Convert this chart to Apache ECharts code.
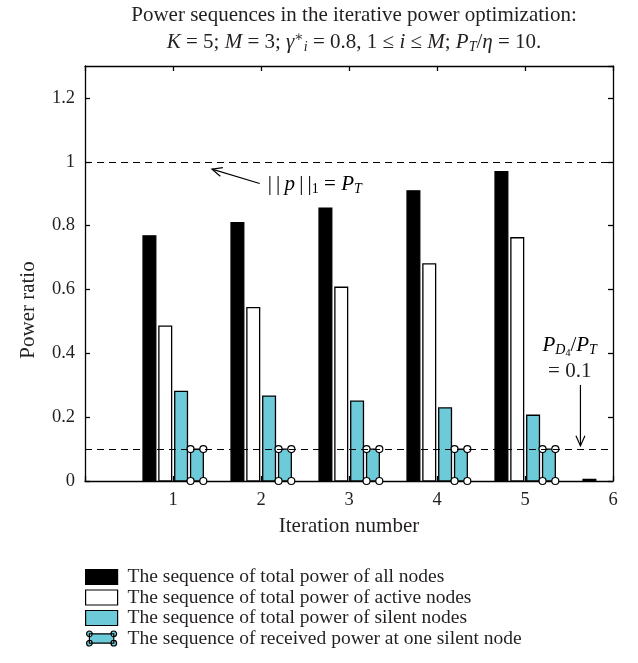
<!DOCTYPE html>
<html>
<head>
<meta charset="utf-8">
<script src="https://cdn.jsdelivr.net/npm/echarts@6/dist/echarts.min.js"></script>
<style>
  html, body { margin: 0; padding: 0; background: #fff; }
  #chart { width: 638px; height: 663px; }
</style>
</head>
<body>
<div id="chart"></div>
<script>
// values
const iterations = [1, 2, 3, 4, 5, 6];
const totalAll = [0.768, 0.809, 0.855, 0.909, 0.969, 0.005];
const totalActive = [0.485, 0.543, 0.607, 0.680, 0.762];
const totalSilent = [0.281, 0.266, 0.250, 0.229, 0.206];
const receivedSilent = [0.1, 0.1, 0.1, 0.1, 0.1];
const referenceLevels = [1, 0.1];
const seriesNames = [
  'The sequence of total power of all nodes',
  'The sequence of total power of active nodes',
  'The sequence of total power of silent nodes',
  'The sequence of received power at one silent node'
];

const FONT = '"Liberation Serif", "DejaVu Serif", serif';
const INK = '#231f20';
const CYAN = '#6dcad8';
const offsets = [-0.268, -0.088, 0.092, 0.272]; // bar offset from the iteration tick
const halfW = 0.0725;

const chart = echarts.init(document.getElementById('chart'), null, { renderer: 'canvas' });

const pairs = (vals) => vals.map((v, i) => [iterations[i], v]);

function barRenderer(k, fill, withCircles) {
  return function (params, api) {
    const x = api.value(0) + offsets[k];
    const tl = api.coord([x - halfW, api.value(1)]);
    const br = api.coord([x + halfW, 0]);
    const rect = {
      type: 'rect',
      shape: { x: tl[0], y: tl[1], width: br[0] - tl[0], height: br[1] - tl[1] },
      style: { fill: fill, stroke: '#000', lineWidth: 1.3 }
    };
    if (!withCircles) return rect;
    const corners = [[tl[0], tl[1]], [br[0], tl[1]], [tl[0], br[1]], [br[0], br[1]]];
    return {
      type: 'group',
      children: [rect].concat(corners.map(c => ({
        type: 'circle',
        shape: { cx: c[0], cy: c[1], r: 3.5 },
        style: { fill: '#fff', stroke: '#000', lineWidth: 1.2 },
        z2: 5
      })))
    };
  };
}

const axisLine = { onZero: false, lineStyle: { color: '#000', width: 1.3 } };
const tickIn = { inside: true, length: 5, lineStyle: { color: '#000', width: 1.3 } };
const tickLabel = { color: INK, fontFamily: FONT, fontSize: 18.5 };
const nameStyle = { color: INK, fontFamily: FONT, fontSize: 21 };

chart.setOption({
  animation: false,
  title: [
    {
      text: 'Power sequences in the iterative power optimization:',
      left: 349, top: 0, textAlign: 'center',
      textStyle: { color: INK, fontFamily: FONT, fontSize: 21, fontWeight: 'normal' }
    },
    {
      text: '{i|K} = 5; {i|M} = 3; {i|γ}{sp|∗}{sb|i} = 0.8, 1 ≤ {i|i} ≤ {i|M}; {i|P}{sb|T}/{i|η} = 10.',
      left: 349, top: 25, textAlign: 'center',
      textStyle: {
        color: INK, fontFamily: FONT, fontSize: 21, fontWeight: 'normal',
        rich: {
          i: { fontStyle: 'italic', fontFamily: FONT, fontSize: 21, color: INK },
          sb: { fontStyle: 'italic', fontFamily: FONT, fontSize: 14, color: INK, padding: [10, 0, 0, 0] },
          sp: { fontFamily: FONT, fontSize: 14, color: INK, padding: [0, 0, 10, 0] }
        }
      }
    }
  ],
  grid: { left: 85, right: 25, top: 66, bottom: 182 },
  legend: {
    orient: 'vertical', left: 80, top: 562,
    itemWidth: 32, itemHeight: 15, itemGap: 0.5,
    selectedMode: false,
    textStyle: { color: INK, fontFamily: FONT, fontSize: 19.5, lineHeight: 19, padding: [0, 0, 0, 5] },
    data: [
      { name: seriesNames[0], icon: 'rect', itemStyle: { color: '#000', borderColor: '#000', borderWidth: 1.2 } },
      { name: seriesNames[1], icon: 'rect', itemStyle: { color: '#fff', borderColor: '#000', borderWidth: 1.2 } },
      { name: seriesNames[2], icon: 'rect', itemStyle: { color: CYAN, borderColor: '#000', borderWidth: 1.2 } },
      {
        name: seriesNames[3],
        icon: 'path://M3,3H29V13H3Z M0,3a3,3 0 1,0 6,0a3,3 0 1,0 -6,0 M26,3a3,3 0 1,0 6,0a3,3 0 1,0 -6,0 M0,13a3,3 0 1,0 6,0a3,3 0 1,0 -6,0 M26,13a3,3 0 1,0 6,0a3,3 0 1,0 -6,0',
        itemStyle: { color: CYAN, borderColor: '#000', borderWidth: 1.2 }
      }
    ]
  },
  xAxis: [
    {
      type: 'value', min: 0, max: 6, interval: 1,
      name: 'Iteration number', nameLocation: 'middle', nameGap: 35,
      nameTextStyle: nameStyle,
      axisLine: axisLine, axisTick: tickIn, splitLine: { show: false },
      axisLabel: Object.assign({ margin: 10, formatter: v => (v === 0 ? '' : String(v)) }, tickLabel)
    },
    {
      type: 'value', min: 0, max: 6, interval: 1, position: 'top',
      axisLine: axisLine, axisTick: tickIn, splitLine: { show: false }, axisLabel: { show: false }
    }
  ],
  yAxis: [
    {
      type: 'value', min: 0, max: 1.3, interval: 0.2,
      axisLine: axisLine, axisTick: tickIn, splitLine: { show: false },
      axisLabel: Object.assign({ margin: 10, showMaxLabel: false }, tickLabel)
    },
    {
      type: 'value', min: 0, max: 1.3, interval: 0.2, position: 'right',
      axisLine: axisLine, axisTick: tickIn, splitLine: { show: false }, axisLabel: { show: false }
    }
  ],
  series: [
    {
      name: seriesNames[0], type: 'custom', itemStyle: { color: '#000' },
      renderItem: barRenderer(0, '#000', false), data: pairs(totalAll)
    },
    {
      name: seriesNames[1], type: 'custom', itemStyle: { color: '#fff' },
      renderItem: barRenderer(1, '#fff', false), data: pairs(totalActive)
    },
    {
      name: seriesNames[2], type: 'custom', itemStyle: { color: CYAN },
      renderItem: barRenderer(2, CYAN, false), data: pairs(totalSilent)
    },
    {
      name: seriesNames[3], type: 'custom', itemStyle: { color: CYAN },
      renderItem: barRenderer(3, CYAN, true), data: pairs(receivedSilent),
      z: 3,
      markLine: {
        silent: true, symbol: 'none', label: { show: false },
        lineStyle: { color: '#000', width: 1.2, type: [7, 5] },
        data: referenceLevels.map(v => ({ yAxis: v }))
      }
    }
  ]
});

// annotations, placed in data coordinates
const annotations = [
  { tail: [1.985, 0.932], head: [1.443, 0.977] },
  { tail: [5.63, 0.301], head: [5.63, 0.110] }
];
const toPx = p => chart.convertToPixel({ gridIndex: 0 }, p);
const g = [];
annotations.forEach(a => {
  const t = toPx(a.tail), h = toPx(a.head);
  const ang = Math.atan2(t[1] - h[1], t[0] - h[0]);
  const L = 11, spread = 0.42;
  g.push({ type: 'line', shape: { x1: t[0], y1: t[1], x2: h[0], y2: h[1] }, style: { stroke: '#000', lineWidth: 1.2 } });
  g.push({
    type: 'polyline',
    shape: { points: [
      [h[0] + L * Math.cos(ang + spread), h[1] + L * Math.sin(ang + spread)],
      h,
      [h[0] + L * Math.cos(ang - spread), h[1] + L * Math.sin(ang - spread)]
    ] },
    style: { stroke: '#000', fill: null, lineWidth: 1.2 }
  });
});
const richMath = {
  i: { fontStyle: 'italic', fontFamily: FONT, fontSize: 21, color: INK },
  n: { fontFamily: FONT, fontSize: 21, color: INK },
  sb: { fontFamily: FONT, fontSize: 14, color: INK, padding: [10, 0, 0, 0] },
  isb: { fontStyle: 'italic', fontFamily: FONT, fontSize: 14, color: INK, padding: [10, 0, 0, 0] },
  ssb: { fontFamily: FONT, fontSize: 10, color: INK, padding: [17, 0, 0, 0] }
};
const p1 = toPx([2.076, 0.93]);
g.push({
  type: 'text', x: p1[0], y: p1[1],
  style: { text: '{n||\u2009|\u2009}{i|p}{n|\u2009|\u2009|}{sb|1}{n| = }{i|P}{isb|T}', rich: richMath, verticalAlign: 'middle', align: 'left' }
});
const p2 = toPx([5.508, 0.426]);
g.push({
  type: 'text', x: p2[0], y: p2[1],
  style: { text: '{i|P}{isb|D}{ssb|4}{n|/}{i|P}{isb|T}', rich: richMath, verticalAlign: 'middle', align: 'center' }
});
const p3 = toPx([5.508, 0.342]);
g.push({
  type: 'text', x: p3[0], y: p3[1],
  style: { text: '= 0.1', font: '21px ' + FONT, fill: INK, verticalAlign: 'middle', align: 'center' }
});
g.push({
  type: 'text', x: 28, y: 310, rotation: Math.PI / 2,
  style: { text: 'Power ratio', font: '21px ' + FONT, fill: INK, align: 'center', verticalAlign: 'middle' }
});
chart.setOption({ graphic: g });
</script>
</body>
</html>
